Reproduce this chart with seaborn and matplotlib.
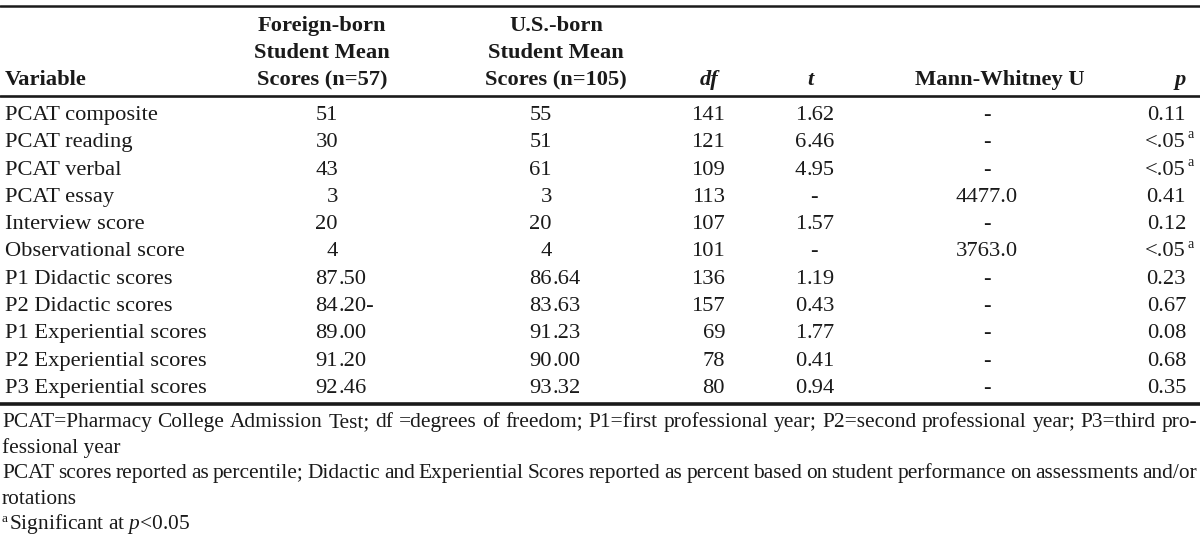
import matplotlib
matplotlib.use("Agg")
import matplotlib.pyplot as plt
import seaborn as sns

# table content
variables = [
    "PCAT composite", "PCAT reading", "PCAT verbal", "PCAT essay",
    "Interview score", "Observational score", "P1 Didactic scores",
    "P2 Didactic scores", "P1 Experiential scores", "P2 Experiential scores",
    "P3 Experiential scores",
]
foreign_mean = ["51", "30", "43", "3", "20", "4", "87.50", "84.20-", "89.00", "91.20", "92.46"]
us_mean = ["55", "51", "61", "3", "20", "4", "86.64", "83.63", "91.23", "90.00", "93.32"]
df_vals = ["141", "121", "109", "113", "107", "101", "136", "157", "69", "78", "80"]
t_vals = ["1.62", "6.46", "4.95", "-", "1.57", "-", "1.19", "0.43", "1.77", "0.41", "0.94"]
mwu_vals = ["-", "-", "-", "4477.0", "-", "3763.0", "-", "-", "-", "-", "-"]
p_vals = ["0.11", "<.05", "<.05", "0.41", "0.12", "<.05", "0.23", "0.67", "0.08", "0.68", "0.35"]
p_sig = [False, True, True, False, False, True, False, False, False, False, False]

header_foreign = "Foreign-born\nStudent Mean\nScores (n=57)"
header_us = "U.S.-born\nStudent Mean\nScores (n=105)"

foot_line1 = ("PCAT=Pharmacy College Admission Test; df =degrees of freedom; "
              "P1=first professional year; P2=second professional year; P3=third pro-")
foot_line2 = "fessional year"
foot_line3 = ("PCAT scores reported as percentile; Didactic and Experiential Scores "
              "reported as percent based on student performance on assessments and/or")
foot_line4 = "rotations"

sns.set_theme(style="white")
plt.rcParams["font.family"] = ["Liberation Serif", "DejaVu Serif"]
plt.rcParams["mathtext.fontset"] = "custom"
plt.rcParams["mathtext.rm"] = "Liberation Serif"
plt.rcParams["mathtext.it"] = "Liberation Serif:italic"
plt.rcParams["mathtext.bf"] = "Liberation Serif:bold"

W, H = 1200, 538
fig = plt.figure(figsize=(W / 100, H / 100), dpi=100)
ax = fig.add_axes([0, 0, 1, 1])
ax.set_xlim(0, W)
ax.set_ylim(H, 0)
ax.axis("off")

ink = "#1a1a1a"
fs = 16.2       # body size (pt)
fs_foot = 15.4  # footnote size
row0, row_h = 113, 27.3
base = 7        # visual centre -> baseline

def put(x, y, s, ha="left", **kw):
    return ax.text(x, y + base, s, ha=ha, va="baseline", fontsize=kw.pop("size", fs),
                   color=ink, **kw)

def put_dec(x, y, s):
    # decimal aligned number, integer part ends at x
    if s == "-":
        put(x + 8, y, s, ha="center")
    elif "." in s:
        i, f = s.split(".", 1)
        put(x, y, i, ha="right")
        put(x, y, "." + f, ha="left")
    else:
        put(x, y, s, ha="right")

# rules
ax.axhline(6, color=ink, lw=1.8)
ax.axhline(95.5, color=ink, lw=1.9)
ax.axhline(404, color=ink, lw=2.6)

# header
put(5, 78, "Variable", fontweight="bold")
for i, (a, b) in enumerate(zip(header_foreign.split("\n"), header_us.split("\n"))):
    yy = 24 + i * 27
    put(322, yy, a, ha="center", fontweight="bold")
    put(556, yy, b, ha="center", fontweight="bold")
put(709, 78, "df", ha="center", fontweight="bold", style="italic")
put(810, 78, "t", ha="center", fontweight="bold", style="italic")
put(1000, 78, "Mann-Whitney U", ha="center", fontweight="bold")
put(1180, 78, "p", ha="center", fontweight="bold", style="italic")

# body
for i, var in enumerate(variables):
    y = row0 + i * row_h
    put(5, y, var)
    put_dec(338, y, foreign_mean[i])
    put_dec(552, y, us_mean[i])
    put(725, y, df_vals[i], ha="right")
    put_dec(806, y, t_vals[i])
    put(987, y, mwu_vals[i], ha="center")
    put(1186, y, p_vals[i], ha="right")
    if p_sig[i]:
        put(1187, y - 9, "a", size=fs * 0.62)

# footnotes
renderer = fig.canvas.get_renderer()

def justify(y, line, x0=2, x1=1197):
    words = line.split(" ")
    texts = [put(0, y, w, size=fs_foot) for w in words]
    widths = [t.get_window_extent(renderer).width for t in texts]
    gap = (x1 - x0 - sum(widths)) / (len(words) - 1)
    x = x0
    for t, w in zip(texts, widths):
        t.set_x(x)
        x += w + gap

foot_y0, foot_h = 420, 25.5
justify(foot_y0, foot_line1)
put(2, foot_y0 + foot_h, foot_line2, size=fs_foot)
justify(foot_y0 + 2 * foot_h, foot_line3)
put(2, foot_y0 + 3 * foot_h, foot_line4, size=fs_foot)
put(2, foot_y0 + 4 * foot_h - 7, "a", size=fs_foot * 0.62)
put(9, foot_y0 + 4 * foot_h, r"Significant at $\mathit{p}$<0.05", size=fs_foot)

fig.savefig("out.png", dpi=100, facecolor="white")
